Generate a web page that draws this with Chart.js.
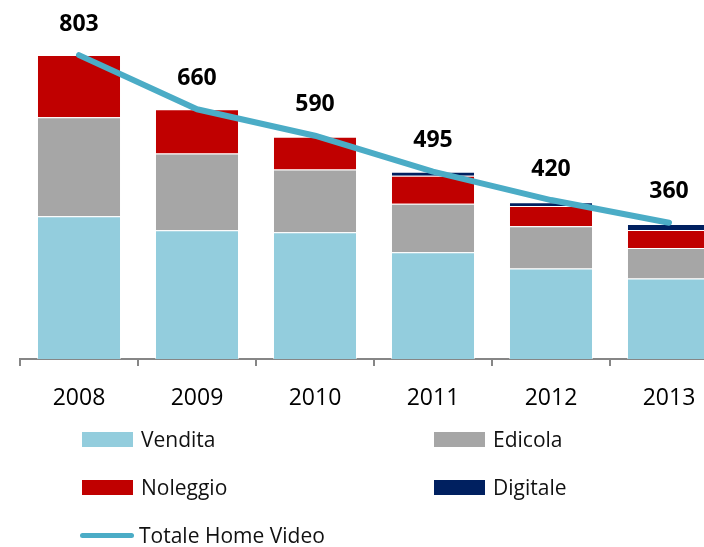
<!DOCTYPE html>
<html>
<head>
<meta charset="utf-8">
<script src="https://cdn.jsdelivr.net/npm/chart.js@4/dist/chart.umd.min.js"></script>
<style>
  html, body { margin: 0; padding: 0; background: #fff; overflow: hidden; width: 704px; height: 547px; }
  #wrap { position: absolute; left: 0; top: 0; width: 740px; height: 547px; }
  #legend { position: absolute; left: 0; top: 0; width: 704px; height: 547px; pointer-events: none;
            font-family: "Open Sans", sans-serif; font-size: 21px; color: #111; }
  .item { position: absolute; display: flex; align-items: center; height: 24px; }
  .sw { width: 51px; height: 15px; margin-right: 8px; }
  .ln { width: 54px; height: 5px; border-radius: 3px; margin-right: 5px; }
</style>
</head>
<body>
<div id="wrap"><canvas id="c" width="740" height="547"></canvas></div>
<div id="legend"></div>
<script>
const categories = ["2008", "2009", "2010", "2011", "2012", "2013"];
const vendita  = [377, 340, 335, 282, 239, 213];
const edicola  = [262, 203, 166, 128, 112, 80];
const noleggio = [164, 117, 86, 74, 53, 48];
const digitale = [0, 0, 0, 11, 10, 16];
const totale   = [803, 660, 590, 495, 420, 360];

const seriesNames = ["Vendita", "Edicola", "Noleggio", "Digitale", "Totale Home Video"];
const colors = ["#93CDDD", "#A6A6A6", "#C00000", "#002060", "#4BACC6"];

const barDs = (label, data, color) => ({
  type: 'bar', label, data, backgroundColor: color,
  borderColor: 'rgba(255,255,255,0.55)', borderWidth: 1,
  stack: 'bars', order: 1,
  categoryPercentage: 1.0, barPercentage: 0.712
});

const labelPlugin = {
  id: 'totLabels',
  afterDatasetsDraw(chart) {
    const ctx = chart.ctx;
    const meta = chart.getDatasetMeta(4);
    ctx.save();
    ctx.font = 'bold 23px "Open Sans", sans-serif';
    ctx.fillStyle = '#000';
    ctx.textAlign = 'center';
    ctx.textBaseline = 'middle';
    meta.data.forEach((pt, i) => {
      ctx.fillText(String(totale[i]), pt.x, pt.y - 31);
    });
    ctx.restore();
  }
};

new Chart(document.getElementById('c'), {
  data: {
    labels: categories,
    datasets: [
      barDs(seriesNames[0], vendita, colors[0]),
      barDs(seriesNames[1], edicola, colors[1]),
      barDs(seriesNames[2], noleggio, colors[2]),
      barDs(seriesNames[3], digitale, colors[3]),
      {
        type: 'line', label: seriesNames[4], data: totale,
        borderColor: colors[4], borderWidth: 6, borderCapStyle: 'round', borderJoinStyle: 'round',
        pointRadius: 0, tension: 0, fill: false, stack: 'line', order: 0
      }
    ]
  },
  options: {
    responsive: false,
    animation: false,
    layout: { padding: { left: 20, right: 12, top: 1, bottom: 138 } },
    plugins: { legend: { display: false }, tooltip: { enabled: false } },
    scales: {
      x: {
        stacked: true,
        grid: { display: true, drawOnChartArea: false, drawTicks: true, tickLength: 7,
                color: '#868686', lineWidth: 2, offset: true },
        border: { display: true, color: '#868686', width: 2 },
        ticks: { color: '#000', font: { family: '"Open Sans", sans-serif', size: 23 }, padding: 19, maxRotation: 0 },
        afterFit(scale) { scale.height = 50; }
      },
      y: {
        stacked: true, display: false, min: 0, max: 946
      }
    }
  },
  plugins: [labelPlugin]
});

// HTML legend built from series names/colors
const leg = document.getElementById('legend');
const legendPos = [
  { i: 0, x: 82, y: 427 }, { i: 1, x: 434, y: 427 },
  { i: 2, x: 82, y: 475 }, { i: 3, x: 434, y: 475 },
  { i: 4, x: 80, y: 523 }
];
legendPos.forEach(p => {
  const d = document.createElement('div');
  d.className = 'item';
  d.style.left = p.x + 'px';
  d.style.top = p.y + 'px';
  const s = document.createElement('div');
  s.className = p.i === 4 ? 'ln' : 'sw';
  s.style.background = colors[p.i];
  const t = document.createElement('span');
  t.textContent = seriesNames[p.i];
  d.appendChild(s); d.appendChild(t);
  leg.appendChild(d);
});
</script>
</body>
</html>
